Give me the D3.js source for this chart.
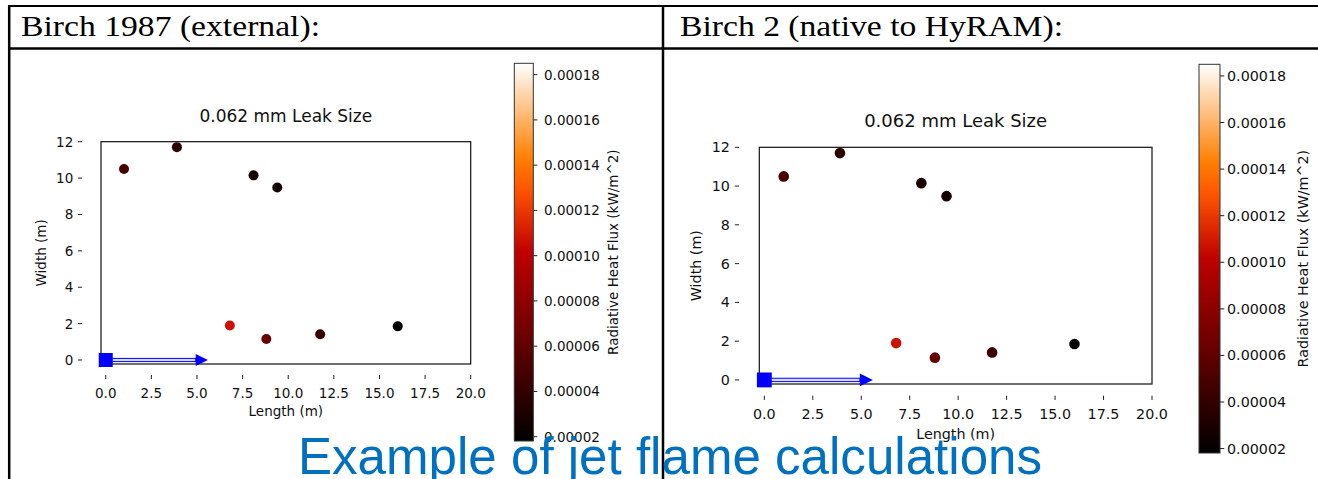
<!DOCTYPE html>
<html lang="en">
<head>
<meta charset="UTF-8">
<title>Jet flame calculations</title>
<script src="https://d3js.org/d3.v7.min.js"></script>
<style>
  body { margin: 0; background: #fff; }
</style>
</head>
<body>
<div id="chart"></div>
<script>
// sensor positions (m) and radiative heat flux (kW/m^2), same in both panels
var lengthX  = [1.0, 3.9, 8.1, 9.4, 6.8, 8.8, 11.75, 16.0];
var widthY   = [10.5, 11.7, 10.15, 9.48, 1.9, 1.15, 1.42, 1.85];
var heatFlux = [0.0000501, 0.0000375, 0.0000292, 0.0000257, 0.000107, 0.0000641, 0.0000432, 0.0000195];

var xTicks = [0, 2.5, 5, 7.5, 10, 12.5, 15, 17.5, 20];
var yTicks = [0, 2, 4, 6, 8, 10, 12];
var fluxTicks = [0.00002, 0.00004, 0.00006, 0.00008, 0.00010, 0.00012, 0.00014, 0.00016, 0.00018];
var fluxRange = [0.0000181, 0.0001850];

var leakPoint = [0, 0];
var jetArrow = [0, 4.93, 5.6];   // tail, start of head, tip (m)

var headers = ["Birch 1987 (external):", "Birch 2 (native to HyRAM):"];
var plotTitle = "0.062 mm Leak Size";
var footer = "Example of jet flame calculations";

var W = 1318, H = 479;
var svg = d3.select("#chart").append("svg")
    .attr("width", W).attr("height", H)
    .style("font-family", "'DejaVu Sans', sans-serif");

svg.append("rect").attr("width", W).attr("height", H).attr("fill", "#fff");

// matplotlib gist_heat
function gistHeat(t) {
    t = Math.max(0, Math.min(1, t));
    var r = Math.min(1, 1.5 * t), g = Math.max(0, 2 * t - 1), b = Math.max(0, 4 * t - 3);
    return d3.rgb(r * 255, g * 255, b * 255).formatHex();
}

// table lines
svg.append("line").attr("x1", 8).attr("x2", W).attr("y1", 6).attr("y2", 6)
    .attr("stroke", "#000").attr("stroke-width", 2);
svg.append("line").attr("x1", 8).attr("x2", W).attr("y1", 48.5).attr("y2", 48.5)
    .attr("stroke", "#000").attr("stroke-width", 2.5);
svg.append("line").attr("x1", 9.2).attr("x2", 9.2).attr("y1", 5).attr("y2", H)
    .attr("stroke", "#000").attr("stroke-width", 2.5);
svg.append("line").attr("x1", 663).attr("x2", 663).attr("y1", 5).attr("y2", H)
    .attr("stroke", "#000").attr("stroke-width", 2.5);

// header cells
svg.append("text").attr("x", 21).attr("y", 36)
    .attr("textLength", 299).attr("lengthAdjust", "spacingAndGlyphs")
    .style("font-family", "'Liberation Serif', serif").style("font-size", "29px")
    .text(headers[0]);
svg.append("text").attr("x", 680).attr("y", 36)
    .attr("textLength", 383).attr("lengthAdjust", "spacingAndGlyphs")
    .style("font-family", "'Liberation Serif', serif").style("font-size", "29px")
    .text(headers[1]);

var panels = [
    { id: 0, left: 101, right: 470.7, top: 141.7, bottom: 364, xDom: [-0.26, 20], yDom: [-0.22, 12],
      fs: 13.5, titleFs: 17, titleY: 116, xlabY: 411, ylabX: 40.7, s: 1, dotR: 5,
      cb: { x: 514.3, w: 19, top: 63.3, bottom: 441, gap: 10.7, labX: 613 } },
    { id: 1, left: 759.3, right: 1152, top: 147.3, bottom: 384, xDom: [-0.26, 20], yDom: [-0.21, 12],
      fs: 14.3, titleFs: 18, titleY: 120, xlabY: 434, ylabX: 696, s: 1.062, dotR: 5.3,
      cb: { x: 1199, w: 21, top: 64.3, bottom: 453, gap: 7, labX: 1303 } }
];

panels.forEach(function(p) {
    var g = svg.append("g");
    var x = d3.scaleLinear().domain(p.xDom).range([p.left, p.right]);
    var y = d3.scaleLinear().domain(p.yDom).range([p.bottom, p.top]);
    var c = d3.scaleLinear().domain(fluxRange).range([0, 1]);
    var txt = "#111";

    // title
    g.append("text").attr("x", (p.left + p.right) / 2).attr("y", p.titleY)
        .attr("text-anchor", "middle").attr("dominant-baseline", "central")
        .style("font-size", p.titleFs + "px").attr("fill", txt).text(plotTitle);

    // y ticks (detached from the frame)
    yTicks.forEach(function(t) {
        g.append("line").attr("x1", p.left - 23 * p.s).attr("x2", p.left - 19 * p.s)
            .attr("y1", y(t)).attr("y2", y(t)).attr("stroke", "#222");
        g.append("text").attr("x", p.left - 27.7 * p.s).attr("y", y(t))
            .attr("text-anchor", "end").attr("dominant-baseline", "central")
            .style("font-size", p.fs + "px").attr("fill", txt).text(t);
    });
    // x ticks
    xTicks.forEach(function(t) {
        g.append("line").attr("x1", x(t)).attr("x2", x(t))
            .attr("y1", p.bottom + 11 * p.s).attr("y2", p.bottom + 15 * p.s).attr("stroke", "#222");
        g.append("text").attr("x", x(t)).attr("y", p.bottom + 28.5 * p.s)
            .attr("text-anchor", "middle").attr("dominant-baseline", "central")
            .style("font-size", p.fs + "px").attr("fill", txt).text(d3.format(".1f")(t));
    });

    g.append("text").attr("x", (p.left + p.right) / 2).attr("y", p.xlabY)
        .attr("text-anchor", "middle").attr("dominant-baseline", "central")
        .style("font-size", p.fs + "px").attr("fill", txt).text("Length (m)");
    g.append("text").attr("transform", "translate(" + p.ylabX + "," + (p.top + p.bottom) / 2 + ") rotate(-90)")
        .attr("text-anchor", "middle").attr("dominant-baseline", "central")
        .style("font-size", p.fs + "px").attr("fill", txt).text("Width (m)");

    // frame
    g.append("rect").attr("x", p.left).attr("y", p.top)
        .attr("width", p.right - p.left).attr("height", p.bottom - p.top)
        .attr("fill", "none").attr("stroke", "#111").attr("stroke-width", 1.2);

    // heat flux points
    g.selectAll("circle.pt").data(heatFlux).enter().append("circle")
        .attr("class", "pt")
        .attr("cx", function(d, i) { return x(lengthX[i]); })
        .attr("cy", function(d, i) { return y(widthY[i]); })
        .attr("r", p.dotR)
        .attr("fill", function(d) { return gistHeat(c(d)); });

    // jet direction arrow
    var bodyH = 1.6 * p.s, headH = 6 * p.s, y0 = y(leakPoint[1]);
    g.append("rect").attr("x", x(jetArrow[0])).attr("y", y0 - bodyH)
        .attr("width", x(jetArrow[1]) - x(jetArrow[0])).attr("height", bodyH * 2)
        .attr("fill", "#d8d8ff").attr("stroke", "#0000ff").attr("stroke-width", 1);
    g.append("path")
        .attr("d", "M" + x(jetArrow[1]) + "," + (y0 - headH) + "L" + x(jetArrow[2]) + "," + y0 +
            "L" + x(jetArrow[1]) + "," + (y0 + headH) + "Z")
        .attr("fill", "#0000ff");
    var sq = 14 * p.s;
    g.append("rect").attr("x", x(leakPoint[0]) - sq / 2).attr("y", y0 - sq / 2)
        .attr("width", sq).attr("height", sq).attr("fill", "#0000ff");

    // colorbar
    var cb = p.cb;
    var gradId = "heat" + p.id;
    var grad = svg.append("defs").append("linearGradient").attr("id", gradId)
        .attr("x1", 0).attr("y1", 1).attr("x2", 0).attr("y2", 0);
    d3.range(0, 1.0001, 0.02).forEach(function(t) {
        grad.append("stop").attr("offset", t).attr("stop-color", gistHeat(t));
    });
    var cy = d3.scaleLinear().domain(fluxRange).range([cb.bottom, cb.top]);
    g.append("rect").attr("x", cb.x).attr("y", cb.top).attr("width", cb.w)
        .attr("height", cb.bottom - cb.top).attr("fill", "url(#" + gradId + ")")
        .attr("stroke", "#333").attr("stroke-width", 1);
    fluxTicks.forEach(function(t) {
        g.append("line").attr("x1", cb.x + cb.w).attr("x2", cb.x + cb.w + 4 * p.s)
            .attr("y1", cy(t)).attr("y2", cy(t)).attr("stroke", "#222");
        g.append("text").attr("x", cb.x + cb.w + cb.gap).attr("y", cy(t))
            .attr("dominant-baseline", "central")
            .style("font-size", p.fs + "px").attr("fill", txt).text(d3.format(".5f")(t));
    });
    g.append("text").attr("transform", "translate(" + cb.labX + "," + (cb.top + cb.bottom) / 2 + ") rotate(-90)")
        .attr("text-anchor", "middle").attr("dominant-baseline", "central")
        .style("font-size", p.fs + "px").attr("fill", txt).text("Radiative Heat Flux (kW/m^2)");
});

// slide caption over the table
svg.append("text").attr("x", 298).attr("y", 474)
    .attr("textLength", 744).attr("lengthAdjust", "spacingAndGlyphs")
    .style("font-family", "'Liberation Sans', Arial, sans-serif").style("font-size", "52px")
    .attr("fill", "#0070c0").text(footer);
</script>
</body>
</html>
